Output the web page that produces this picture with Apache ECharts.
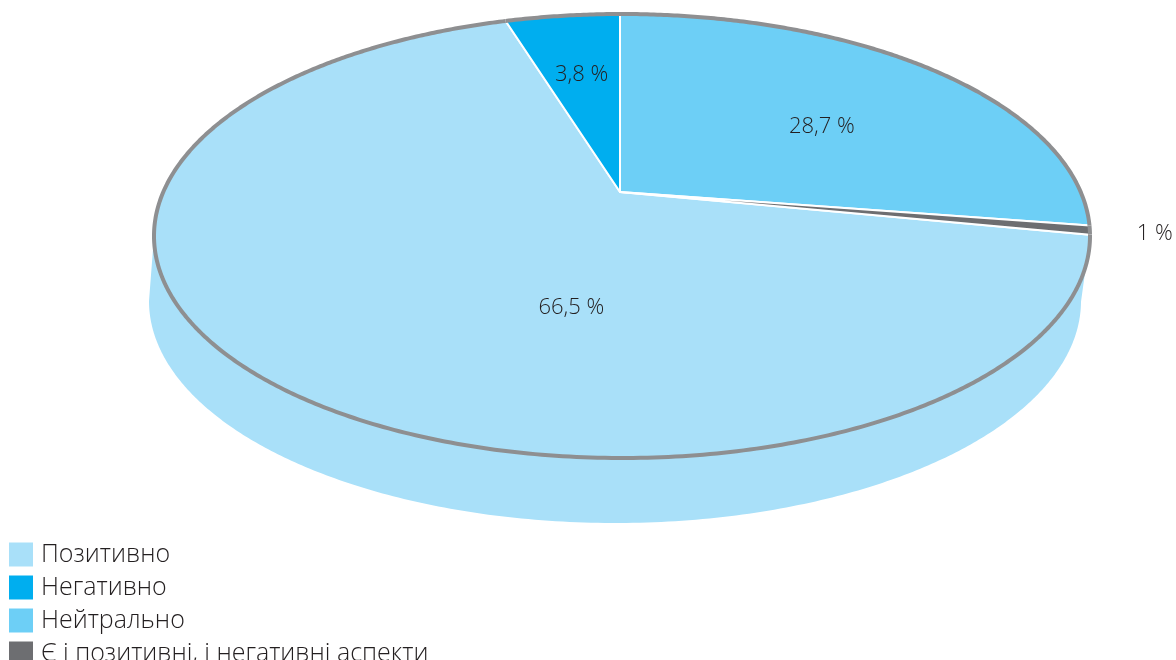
<!DOCTYPE html>
<html><head><meta charset="utf-8">
<script src="https://cdn.jsdelivr.net/npm/echarts@6/dist/echarts.min.js"></script>
<style>html,body{margin:0;padding:0;background:#fff}#c{width:1176px;height:660px}</style>
</head><body><div id="c"></div>
<script>
// ---- data ----
const categories = ['Позитивно', 'Негативно', 'Нейтрально', 'Є і позитивні, і негативні аспекти'];
const values = [66.5, 3.8, 28.7, 1];
const valueLabels = ['66,5 %', '3,8 %', '28,7 %', '1 %'];

// ---- style ----
const colors = ['#a9e0f9', '#00aeef', '#6dcff6', '#6d6e71'];
const RIM = '#8e8f91';
const TXT = '#231f20';
const FONT = '"Open Sans", "Noto Sans", sans-serif';

// pseudo-3D geometry (pixels)
const G = { ax: 620, ay: 192, cx: 622, cy: 236, rx: 468, ry: 222, bx: 615, by: 301, brx: 466, bry: 222 };

const total = values.reduce((a, b) => a + b, 0);
// the third category starts at 12 o'clock, slices run clockwise in data order
const startAngle = 360 - (values[0] + values[1]) / total * 360;

function rimPoint(th) {
  const r = th * Math.PI / 180;
  const k = 0.3135 + 0.052 * Math.cos(r);
  const dx = Math.sin(r), dy = -k * Math.cos(r);
  const px = G.ax - G.cx, py = G.ay - G.cy;
  const a = (dx / G.rx) ** 2 + (dy / G.ry) ** 2;
  const b = 2 * (px * dx / (G.rx * G.rx) + py * dy / (G.ry * G.ry));
  const c = (px / G.rx) ** 2 + (py / G.ry) ** 2 - 1;
  const s = (-b + Math.sqrt(b * b - 4 * a * c)) / (2 * a);
  return [G.ax + s * dx, G.ay + s * dy];
}
function polyCentroid(pts) {
  let A = 0, X = 0, Y = 0;
  for (let i = 0; i < pts.length; i++) {
    const p = pts[i], q = pts[(i + 1) % pts.length];
    const cr = p[0] * q[1] - q[0] * p[1];
    A += cr; X += (p[0] + q[0]) * cr; Y += (p[1] + q[1]) * cr;
  }
  A /= 2;
  if (Math.abs(A) < 1e-6) return { a: 0, x: 0, y: 0 };
  return { a: Math.abs(A), x: X / (6 * A), y: Y / (6 * A) };
}

function makeRender(idx) {
  return function (params, api) {
    let a0 = startAngle;
    for (let j = 0; j < idx; j++) a0 += values[j] / total * 360;
    const v = api.value(0);
    const a1 = a0 + v / total * 360;
    const n = Math.max(2, Math.ceil((a1 - a0) / 0.4));
    const arc = [];
    for (let i = 0; i <= n; i++) arc.push(rimPoint(a0 + (a1 - a0) * i / n));
    const top = [[G.ax, G.ay]].concat(arc);
    // front side wall
    const front = [], bottom = [];
    arc.forEach(p => {
      if (p[1] >= G.cy) {
        const st = (p[0] - G.cx) / G.rx, ct = -(p[1] - G.cy) / G.ry;
        const t = Math.atan2(st, ct);
        front.push(p);
        bottom.push([G.bx + G.brx * Math.sin(t), G.by - G.bry * Math.cos(t)]);
      }
    });
    const children = [];
    let side = null;
    if (front.length >= 2) {
      side = front.concat(bottom.slice().reverse());
      children.push({ type: 'polygon', shape: { points: side }, style: { fill: colors[idx] }, z2: 1 });
    }
    children.push({ type: 'polygon', shape: { points: top },
      style: { fill: colors[idx], stroke: '#ffffff', lineWidth: 2, lineJoin: 'round' }, z2: 5 });
    children.push({ type: 'polyline', shape: { points: arc },
      style: { stroke: RIM, lineWidth: 4, fill: null }, z2: 8 });
    // label
    let lx, ly, align = 'center';
    if (v / total < 0.02) {
      const m = rimPoint((a0 + a1) / 2);
      const dx = m[0] - G.ax, dy = m[1] - G.ay, L = Math.hypot(dx, dy);
      lx = m[0] + dx / L * 47; ly = m[1] + dy / L * 47;
      align = dx >= 0 ? 'left' : 'right';
    } else {
      const c1 = polyCentroid(top);
      let A = c1.a, X = c1.x * c1.a, Y = c1.y * c1.a;
      if (side) { const c2 = polyCentroid(side); A += c2.a; X += c2.x * c2.a; Y += c2.y * c2.a; }
      lx = X / A; ly = Y / A;
    }
    children.push({ type: 'text', x: lx, y: ly, z2: 10,
      style: { text: valueLabels[idx], fill: TXT, font: '300 22px ' + FONT, align: align, verticalAlign: 'middle' } });
    return { type: 'group', children: children };
  };
}

const chart = echarts.init(document.getElementById('c'), null, { renderer: 'canvas' });
chart.setOption({
  animation: false,
  color: colors,
  legend: {
    orient: 'vertical', left: 9, top: 542, padding: 0, height: 200,
    itemWidth: 24, itemHeight: 24, itemGap: 8, icon: 'rect',
    data: categories,
    textStyle: { fontSize: 25, fontWeight: 300, color: TXT, fontFamily: FONT, padding: [0, 0, 0, 3] }
  },
  series: categories.map((name, i) => ({
    type: 'custom', name: name, coordinateSystem: 'none', silent: true,
    itemStyle: { color: colors[i] },
    data: [[values[i]]],
    renderItem: makeRender(i)
  }))
});
</script></body></html>
